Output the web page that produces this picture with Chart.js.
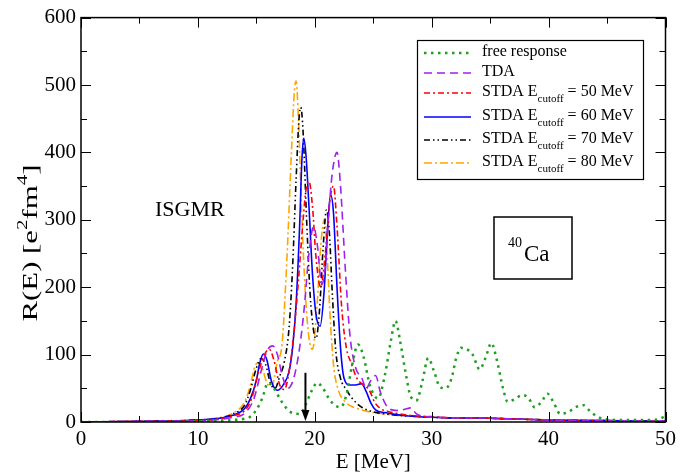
<!DOCTYPE html>
<html lang="en">
<head>
<meta charset="UTF-8">
<title>ISGMR response of 40Ca</title>
<script src="https://cdn.jsdelivr.net/npm/chart.js"></script>
<style>
  body { margin: 0; background: #fff; }
  canvas { display: block; }
</style>
</head>
<body>
<canvas id="chart" width="681" height="475"></canvas>
<script>
// values: E [MeV] and R(E) [e^2 fm^4]
const freeE = [0, 5, 10, 12, 13, 14, 14.5, 15, 15.5, 16, 16.5, 17, 17.5, 18, 18.7, 19.2, 19.7, 20.2, 20.7, 21.2, 21.7, 22.2, 22.7, 23.2, 23.7, 24.2, 24.7, 25.4, 26, 26.5, 26.9, 27.3, 27.8, 28.2, 28.7, 29.2, 29.7, 30.2, 30.7, 31.2, 31.7, 32.1, 32.5, 33, 33.5, 34.1, 34.6, 35.1, 35.6, 36.1, 36.5, 37, 37.8, 38.3, 38.8, 39.4, 39.9, 40.4, 41, 41.7, 42.3, 43, 43.6, 44.4, 45, 46, 47, 48, 49, 50];
const freeR = [0, 0, 1, 2, 3, 5, 8, 18, 35, 58, 50, 35, 22, 14, 12, 25, 45, 58, 50, 35, 25, 22, 40, 85, 115, 95, 55, 35, 70, 120, 150, 120, 70, 38, 32, 60, 95, 75, 52, 50, 65, 95, 110, 108, 100, 78, 95, 117, 90, 50, 30, 33, 40, 35, 22, 30, 42, 30, 12, 15, 22, 25, 15, 6, 4, 3, 3, 3, 3, 8];

const tdaE = [0, 5, 10, 12, 13, 14, 14.8, 15.4, 15.9, 16.4, 16.8, 17.2, 17.7, 18.2, 18.7, 19.1, 19.5, 19.9, 20.2, 20.6, 20.9, 21.2, 21.5, 21.9, 22.2, 22.6, 23.0, 23.5, 24.0, 24.4, 24.8, 25.2, 25.6, 26.1, 26.6, 27.2, 27.7, 28.2, 28.7, 29.5, 30.5, 32, 34, 36, 38, 40, 45, 50];
const tdaR = [0, 1, 2, 4, 7, 13, 35, 75, 105, 113, 100, 70, 50, 65, 110, 170, 250, 290, 265, 205, 230, 310, 370, 400, 350, 230, 130, 80, 66, 50, 62, 69, 45, 25, 18, 17, 19, 21, 12, 8, 7, 6, 6, 5, 4, 3, 2, 1];

const stda50E = [0, 5, 10, 12, 13, 14, 14.6, 15.2, 15.7, 16.1, 16.5, 17.0, 17.4, 17.8, 18.2, 18.6, 19.0, 19.25, 19.5, 19.8, 20.1, 20.5, 20.9, 21.3, 21.6, 21.9, 22.3, 22.7, 23.1, 23.6, 24.0, 24.4, 24.7, 25.1, 25.6, 26.2, 27, 28, 30, 32, 34, 36, 38, 40, 45, 50];
const stda50R = [0, 1, 2, 5, 9, 17, 35, 75, 100, 108, 92, 55, 48, 75, 130, 210, 300, 345, 357, 320, 245, 200, 250, 330, 350, 290, 170, 110, 88, 65, 57, 52, 46, 30, 20, 16, 13, 10, 8, 6, 6, 5, 4, 3, 2, 1];

const stda60E = [0, 5, 10, 12, 13, 14, 14.5, 15, 15.3, 15.6, 15.9, 16.3, 16.8, 17.3, 17.8, 18.1, 18.4, 18.7, 18.9, 19.05, 19.25, 19.5, 19.8, 20.1, 20.45, 20.8, 21.1, 21.35, 21.6, 21.9, 22.2, 22.5, 23.0, 23.5, 24.0, 24.4, 24.8, 25.2, 26, 27, 28, 30, 32, 34, 36, 38, 40, 45, 50];
const stda60R = [0, 1, 3, 6, 10, 20, 35, 62, 88, 101, 92, 60, 47, 55, 75, 110, 175, 290, 390, 421, 395, 320, 220, 160, 142, 195, 290, 337, 310, 200, 110, 65, 55, 55, 57, 45, 28, 18, 14, 11, 9, 7, 6, 6, 5, 4, 3, 2, 1];

const stda70E = [0, 5, 10, 12, 13, 14, 14.5, 15.0, 15.4, 15.8, 16.2, 16.6, 17.0, 17.4, 17.8, 18.1, 18.4, 18.65, 18.8, 19.0, 19.3, 19.6, 19.9, 20.1, 20.4, 20.7, 21.0, 21.25, 21.5, 21.8, 22.2, 22.7, 23.2, 24, 25, 26, 27, 28, 30, 32, 34, 36, 38, 40, 45, 50];
const stda70R = [0, 1, 3, 6, 12, 25, 48, 80, 94, 85, 58, 50, 68, 90, 140, 230, 360, 450, 467, 430, 300, 190, 135, 124, 165, 255, 315, 280, 190, 105, 65, 48, 35, 22, 15, 12, 10, 9, 7, 6, 6, 5, 4, 3, 2, 1];

const stda80E = [0, 5, 10, 12, 13, 14, 14.5, 14.8, 15.1, 15.5, 15.9, 16.3, 16.8, 17.2, 17.6, 18.0, 18.25, 18.4, 18.6, 18.9, 19.2, 19.5, 19.8, 20.2, 20.5, 20.8, 21.05, 21.3, 21.6, 22.0, 22.6, 23.3, 24.0, 25.0, 26, 27, 28, 30, 32, 34, 36, 38, 40, 45, 50];
const stda80R = [0, 1, 3, 7, 13, 30, 55, 78, 88, 80, 58, 52, 90, 116, 237, 400, 490, 506, 450, 300, 189, 125, 108, 175, 260, 300, 250, 160, 85, 48, 30, 22, 18, 14, 12, 10, 9, 7, 6, 6, 5, 4, 3, 2, 1];

const xTicks = [0, 10, 20, 30, 40, 50];
const yTicks = [0, 100, 200, 300, 400, 500, 600];

// arrow marking the centroid energy
const arrowE = 19.2;
const arrowTop = 73;

const serif = "'Liberation Serif', 'Times New Roman', serif";

const pts = (es, rs) => es.map((e, i) => ({x: e, y: rs[i]}));

const series = [
    {label: 'free response', sub: '', rest: '', data: pts(freeE, freeR), color: '#1f9e1f', dash: [2.5, 4.5], width: 2.5},
    {label: 'TDA', sub: '', rest: '', data: pts(tdaE, tdaR), color: '#a020f0', dash: [8, 5], width: 1.6},
    {label: 'STDA E', sub: 'cutoff', rest: ' = 50 MeV', data: pts(stda50E, stda50R), color: '#ff0000', dash: [6, 3, 2, 3], width: 1.6},
    {label: 'STDA E', sub: 'cutoff', rest: ' = 60 MeV', data: pts(stda60E, stda60R), color: '#0000ff', dash: [], width: 1.6},
    {label: 'STDA E', sub: 'cutoff', rest: ' = 70 MeV', data: pts(stda70E, stda70R), color: '#000000', dash: [6, 3, 1.5, 3, 1.5, 3], width: 1.6},
    {label: 'STDA E', sub: 'cutoff', rest: ' = 80 MeV', data: pts(stda80E, stda80R), color: '#ffa500', dash: [8, 3, 2, 3], width: 1.6}
];

const decor = {
    id: 'decor',
    afterDatasetsDraw(chart) {
        const {ctx, chartArea: a, scales: {x, y}} = chart;
        ctx.save();
        ctx.strokeStyle = '#000';
        ctx.fillStyle = '#000';

        // ticks on all four sides, pointing inward
        ctx.lineWidth = 1;
        ctx.beginPath();
        for (let v = 0; v <= 50; v += 5) {
            const px = Math.round(x.getPixelForValue(v)) + 0.5;
            const len = v % 10 ? 6 : 10;
            ctx.moveTo(px, a.bottom); ctx.lineTo(px, a.bottom - len);
            ctx.moveTo(px, a.top); ctx.lineTo(px, a.top + len);
        }
        for (let v = 0; v <= 600; v += 50) {
            const py = Math.round(y.getPixelForValue(v)) + 0.5;
            const len = v % 100 ? 6 : 10;
            ctx.moveTo(a.left, py); ctx.lineTo(a.left + len, py);
            ctx.moveTo(a.right, py); ctx.lineTo(a.right - len, py);
        }
        ctx.stroke();

        // frame
        ctx.lineWidth = 1.5;
        ctx.strokeRect(a.left, a.top, a.right - a.left, a.bottom - a.top);

        // arrow
        const ax = x.getPixelForValue(arrowE);
        const ay0 = y.getPixelForValue(arrowTop);
        const ay1 = y.getPixelForValue(0) - 1;
        ctx.lineWidth = 2;
        ctx.beginPath();
        ctx.moveTo(ax, ay0); ctx.lineTo(ax, ay1 - 8);
        ctx.stroke();
        ctx.beginPath();
        ctx.moveTo(ax - 4, ay1 - 11); ctx.lineTo(ax + 4, ay1 - 11); ctx.lineTo(ax, ay1);
        ctx.closePath(); ctx.fill();

        // axis titles
        ctx.textBaseline = 'alphabetic';
        ctx.font = `21px ${serif}`;
        ctx.textAlign = 'center';
        ctx.fillText('E [MeV]', (a.left + a.right) / 2, 468);

        // y title is drawn a little stretched along its length, as in the original
        const parts = [['R(E) [e', 0], ['2', 1], ['fm', 0], ['4', 1], [']', 0]];
        const big = `22px ${serif}`, small = `15px ${serif}`;
        let total = 0;
        parts.forEach(([t, s]) => { ctx.font = s ? small : big; total += ctx.measureText(t).width; });
        ctx.translate(37, 243);
        ctx.rotate(-Math.PI / 2);
        ctx.scale(1.4, 1);
        ctx.textAlign = 'left';
        let cx = -total / 2;
        parts.forEach(([t, s]) => {
            ctx.font = s ? small : big;
            ctx.fillText(t, cx, s ? -10 : 0);
            cx += ctx.measureText(t).width;
        });
        ctx.setTransform(1, 0, 0, 1, 0, 0);

        // legend box
        const lx = 417, ly = 40, lw = 226, lh = 139;
        ctx.lineWidth = 1.2;
        ctx.strokeRect(lx + 0.5, ly + 0.5, lw, lh);
        const rows = [53, 73, 93, 117, 140, 163];
        chart.data.datasets.forEach((ds, i) => {
            const s = series[i];
            const ry = rows[i];
            ctx.save();
            ctx.strokeStyle = ds.borderColor;
            ctx.lineWidth = ds.borderWidth;
            ctx.setLineDash(ds.borderDash || []);
            ctx.beginPath();
            ctx.moveTo(424, ry); ctx.lineTo(471, ry);
            ctx.stroke();
            ctx.restore();
            ctx.fillStyle = '#000';
            ctx.textAlign = 'left';
            ctx.textBaseline = 'middle';
            ctx.font = `16px ${serif}`;
            let tx = 482;
            ctx.fillText(s.label, tx, ry - 1);
            tx += ctx.measureText(s.label).width;
            if (s.sub) {
                ctx.font = `11px ${serif}`;
                ctx.fillText(s.sub, tx, ry + 6);
                tx += ctx.measureText(s.sub).width;
                ctx.font = `16px ${serif}`;
                ctx.fillText(s.rest, tx, ry - 1);
            }
        });

        // annotations
        ctx.textBaseline = 'alphabetic';
        ctx.textAlign = 'left';
        ctx.font = `22px ${serif}`;
        ctx.fillText('ISGMR', 155, 216);

        ctx.lineWidth = 1.5;
        ctx.strokeRect(494, 217, 78, 62);
        ctx.font = `14px ${serif}`;
        ctx.fillText('40', 508, 247);
        ctx.font = `23px ${serif}`;
        ctx.fillText('Ca', 524, 261);

        ctx.restore();
    }
};

new Chart(document.getElementById('chart'), {
    type: 'line',
    data: {
        datasets: series.map(s => ({
            label: s.label + s.sub + s.rest,
            data: s.data,
            borderColor: s.color,
            borderDash: s.dash,
            borderWidth: s.width,
            pointRadius: 0,
            fill: false,
            cubicInterpolationMode: 'monotone'
        }))
    },
    options: {
        responsive: false,
        animation: false,
        layout: {padding: {top: 12, right: 12, left: 0, bottom: 0}},
        plugins: {legend: {display: false}, tooltip: {enabled: false}},
        scales: {
            x: {
                type: 'linear',
                min: 0,
                max: 50,
                afterBuildTicks: s => { s.ticks = xTicks.map(v => ({value: v})); },
                afterFit: s => { s.height = 53; },
                grid: {display: false, drawTicks: false},
                border: {display: false},
                ticks: {color: '#000', padding: 5, maxRotation: 0, font: {family: serif, size: 21}}
            },
            y: {
                type: 'linear',
                min: 0,
                max: 600,
                afterBuildTicks: s => { s.ticks = yTicks.map(v => ({value: v})); },
                afterFit: s => { s.width = 81; },
                grid: {display: false, drawTicks: false},
                border: {display: false},
                ticks: {color: '#000', padding: 5, font: {family: serif, size: 21}}
            }
        }
    },
    plugins: [decor]
});
</script>
</body>
</html>
